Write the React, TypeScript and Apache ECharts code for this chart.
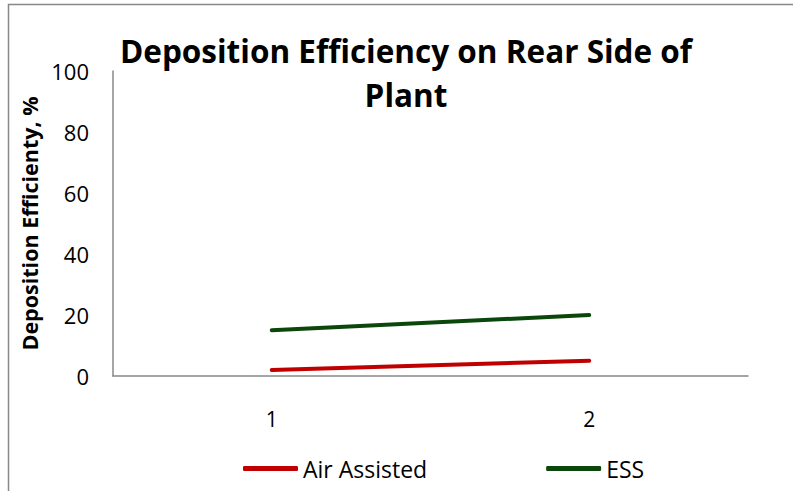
import React, { useEffect, useRef } from "react";
import * as echarts from "echarts";

const categories = ["1", "2"];
const airAssisted = [2, 5];
const ess = [15, 20];
const yTicks = [0, 20, 40, 60, 80, 100];

export default function App() {
  const ref = useRef<HTMLDivElement>(null);
  useEffect(() => {
    document.body.style.margin = "0";
    const chart = echarts.init(ref.current!, undefined, { renderer: "svg" });
    const font = "Open Sans";
    chart.setOption({
      animation: false,
      backgroundColor: "#ffffff",
      title: {
        text: "Deposition Efficiency on Rear Side of\nPlant",
        left: 401,
        top: 23,
        textAlign: "center",
        textStyle: {
          fontFamily: font,
          fontWeight: "bold",
          fontSize: 31.5,
          lineHeight: 44,
          color: "#000",
        },
      },
      graphic: [
        {
          type: "rect",
          shape: { x: 8.5, y: 4.5, width: 900, height: 600 },
          style: { fill: "none", stroke: "#888888", lineWidth: 1.5 },
          silent: true,
        },
      ],
      legend: {
        left: 238,
        top: 452,
        itemWidth: 55,
        itemHeight: 5,
        itemGap: 119,
        icon: "roundRect",
        textStyle: { fontFamily: font, fontSize: 23, color: "#000" },
        data: ["Air Assisted", "ESS"],
      },
      grid: { left: 113, right: 45, top: 71, bottom: 115 },
      xAxis: {
        type: "category",
        data: categories,
        boundaryGap: true,
        axisLine: { lineStyle: { color: "#888888", width: 1.5 } },
        axisTick: { show: false },
        axisLabel: { fontFamily: font, fontSize: 21, color: "#000", margin: 32 },
      },
      yAxis: {
        type: "value",
        min: yTicks[0],
        max: yTicks[yTicks.length - 1],
        interval: 20,
        name: "Deposition Efficienty, %",
        nameLocation: "middle",
        nameRotate: 90,
        nameGap: 73,
        nameTextStyle: { fontFamily: font, fontWeight: "bold", fontSize: 21.5, color: "#000" },
        axisLine: { show: true, lineStyle: { color: "#888888", width: 1.5 } },
        axisTick: { show: false },
        splitLine: { show: false },
        axisLabel: { fontFamily: font, fontSize: 22, color: "#000", margin: 24 },
      },
      series: [
        {
          name: "Air Assisted",
          type: "line",
          data: airAssisted,
          symbol: "none",
          lineStyle: { color: "#C00000", width: 4, cap: "round" },
          itemStyle: { color: "#C00000" },
        },
        {
          name: "ESS",
          type: "line",
          data: ess,
          symbol: "none",
          lineStyle: { color: "#0B460B", width: 4, cap: "round" },
          itemStyle: { color: "#0B460B" },
        },
      ],
    });
    return () => chart.dispose();
  }, []);
  return <div ref={ref} style={{ width: 793, height: 491 }} />;
}
